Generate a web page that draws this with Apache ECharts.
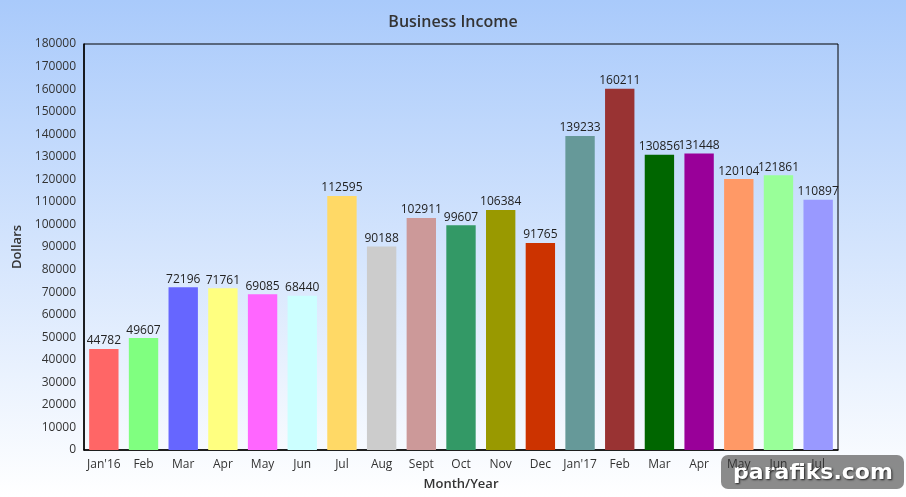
<!DOCTYPE html>
<html>
<head>
<meta charset="utf-8">
<script src="https://cdn.jsdelivr.net/npm/echarts@6/dist/echarts.min.js"></script>
<style>
  html, body { margin: 0; padding: 0; }
  #chart { width: 906px; height: 497px; }
</style>
</head>
<body>
<div id="chart"></div>
<script>
var months = ["Jan'16", "Feb", "Mar", "Apr", "May", "Jun", "Jul", "Aug", "Sept", "Oct", "Nov", "Dec",
    "Jan'17", "Feb", "Mar", "Apr", "May", "Jun", "Jul"];
var income = [44782, 49607, 72196, 71761, 69085, 68440, 112595, 90188, 102911, 99607, 106384, 91765,
    139233, 160211, 130856, 131448, 120104, 121861, 110897];
var barColors = ["#FF6666", "#80FF80", "#6666FF", "#FFFF80", "#FF66FF", "#CCFFFF", "#FFD966", "#CCCCCC",
    "#CC9999", "#339966", "#999900", "#CC3300", "#669999", "#993333", "#006600", "#990099",
    "#FF9966", "#99FF99", "#9999FF"];

var font = "'Open Sans', sans-serif";

var option = {
    backgroundColor: {
        type: "linear", x: 0, y: 0, x2: 0, y2: 1,
        colorStops: [
            { offset: 0, color: "#A9CAFB" },
            { offset: 1, color: "#FFFFFF" }
        ]
    },
    animation: false,
    textStyle: { fontFamily: font },
    title: {
        text: "Business Income",
        left: "center",
        top: 9,
        textStyle: { fontFamily: font, fontSize: 16, fontWeight: 600, color: "#333" }
    },
    grid: { left: 84, right: 68, top: 44, bottom: 47, show: true, borderColor: "#000", borderWidth: 1 },
    xAxis: {
        type: "category",
        data: months,
        name: "Month/Year",
        nameLocation: "middle",
        nameGap: 28,
        nameTextStyle: { fontFamily: font, fontSize: 13, fontWeight: 600, color: "#333" },
        axisLine: { lineStyle: { color: "#000", width: 1.5 } },
        axisTick: { show: false },
        axisLabel: { fontFamily: font, fontSize: 12, color: "#333", margin: 9, interval: 0 }
    },
    yAxis: {
        type: "value",
        min: 0,
        max: 180000,
        interval: 10000,
        name: "Dollars",
        nameLocation: "middle",
        nameGap: 56,
        nameTextStyle: { fontFamily: font, fontSize: 13, fontWeight: 600, color: "#333" },
        axisLine: { show: true, lineStyle: { color: "#000", width: 1.5 } },
        axisTick: { show: false },
        splitLine: { show: false },
        axisLabel: {
            fontFamily: font, fontSize: 12, color: "#333", margin: 8,
            formatter: function(v) { return String(v); }
        }
    },
    series: [{
        type: "bar",
        barWidth: "74%",
        data: income.map(function(v, i) {
            return { value: v, itemStyle: { color: barColors[i] } };
        }),
        label: {
            show: true,
            position: "top",
            distance: 2,
            fontFamily: font,
            fontSize: 12,
            color: "#222"
        }
    }],
    graphic: [{
        type: "group",
        right: 2,
        bottom: 8,
        children: [{
            type: "rect",
            shape: { x: 0, y: 0, width: 183, height: 34, r: 7 },
            style: { fill: "rgba(110,110,110,0.8)" }
        }, {
            type: "text",
            x: 92,
            y: 18,
            style: {
                text: "parafiks.com",
                fontFamily: "'DejaVu Sans', sans-serif",
                fontSize: 22,
                fontWeight: "bold",
                fill: "#fff",
                align: "center",
                verticalAlign: "middle",
                textShadowColor: "#222",
                textShadowBlur: 2,
                textShadowOffsetX: 1,
                textShadowOffsetY: 1
            }
        }]
    }]
};

var myChart = echarts.init(document.getElementById("chart"));
myChart.setOption(option);
</script>
</body>
</html>
